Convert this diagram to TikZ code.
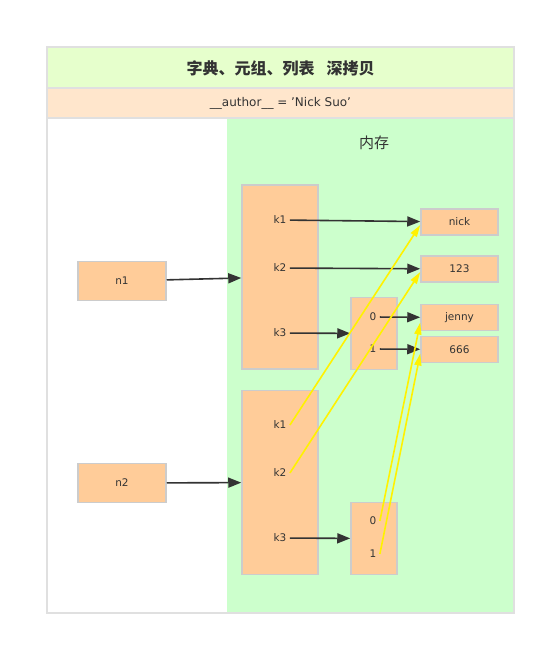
\documentclass[tikz,border=0pt]{standalone}
\usepackage{fontspec}
\setmainfont{DejaVu Sans}
\newfontfamily\cjk{Noto Sans CJK SC}
\usepackage{xcolor}
\usetikzlibrary{arrows.meta, positioning}
\definecolor{peach}{HTML}{FFCC99}
\definecolor{edgegray}{HTML}{CCCCCC}
\definecolor{framegray}{HTML}{E0E0E0}
\definecolor{titlegreen}{HTML}{E6FFCC}
\definecolor{authorpeach}{HTML}{FFE6CC}
\definecolor{memgreen}{HTML}{CCFFCC}
\definecolor{ink}{HTML}{333333}

\begin{document}
\begin{tikzpicture}[x=1pt,y=-1pt,on grid,font=\fontsize{10.5}{12}\selectfont,text=ink]
    \tikzstyle{box}=[shape=rectangle,draw=edgegray,fill=peach,line width=1.5pt,inner sep=0pt]
    \tikzstyle{namebox}=[box,minimum width=88pt,minimum height=39pt]
    \tikzstyle{dictbox}=[box,minimum width=76pt,minimum height=184pt]
    \tikzstyle{tuplebox}=[box,minimum width=46pt,minimum height=72pt]
    \tikzstyle{valbox}=[box,minimum width=77pt,minimum height=26pt]
    \tikzstyle{ref}=[color=ink,line width=1.6pt,-{Triangle[length=13pt,width=10pt]}]
    \tikzstyle{copyref}=[color=yellow,line width=1.6pt,-{Triangle[length=12pt,width=7pt]}]

    \useasboundingbox (0,0) rectangle (546,646);
    % frame and bands
    \fill[titlegreen] (47,47) rectangle (514,88);
    \fill[authorpeach] (47,88) rectangle (514,118);
    \fill[memgreen] (227,118) rectangle (514,613);
    \draw[framegray,line width=1.5pt] (47,88) -- (514,88) (47,118) -- (514,118);
    \draw[framegray,line width=2pt] (47,47) rectangle (514,613);

    \node (title) at (280.5,68) {\cjk\bfseries\fontsize{16}{19}\selectfont 字典、元组、列表\hspace{12pt}深拷贝};
    \node (author) at (280.5,103) {\fontsize{12}{14}\selectfont\_\_author\_\_ = 'Nick Suo'};
    \node (mem) at (374,143) {\cjk\fontsize{15}{17}\selectfont 内存};

    % names
    \node[namebox] (n1) at (122,281) {n1};
    \node[namebox] (n2) at (122,483) {n2};

    % dicts
    \node[dictbox] (D1) at (280,277) {};
    \node (D1k1) at (280,220) {k1};
    \node[below=48pt of D1k1] (D1k2) {k2};
    \node[below=65pt of D1k2] (D1k3) {k3};
    \node[dictbox] (D2) at (280,482.5) {};
    \node (D2k1) at (280,425) {k1};
    \node[below=48pt of D2k1] (D2k2) {k2};
    \node[below=65pt of D2k2] (D2k3) {k3};

    % tuples
    \node[tuplebox] (T1) at (374,333.5) {};
    \node (T1a) at (373,317) {0};
    \node[below=32pt of T1a] (T1b) {1};
    \node[tuplebox] (T2) at (374,538.5) {};
    \node (T2a) at (373,521) {0};
    \node[below=33pt of T2a] (T2b) {1};

    % values
    \node[valbox] (nick) at (459.5,222) {nick};
    \node[valbox] (num) at (459.5,269) {123};
    \node[valbox] (jenny) at (459.5,317.5) {jenny};
    \node[valbox] (six) at (459.5,349.5) {666};

    \path
    (n1) edge[ref] (D1)
    (n2) edge[ref] (D2)
    (D1k1) edge[ref] (nick)
    (D1k2) edge[ref] (num)
    (D1k3) edge[ref] (T1)
    (T1a) edge[ref] (jenny)
    (T1b) edge[ref] (six)
    (D2k3) edge[ref] (T2)
    ;

    \path
    (D2k1.east) edge[copyref] ([yshift=-3pt]nick.west)
    (D2k2.east) edge[copyref] ([yshift=-3pt]num.west)
    (T2a.east) edge[copyref] ([yshift=-5pt]jenny.west)
    (T2b.east) edge[copyref] ([yshift=-4pt]six.west)
    ;
\end{tikzpicture}
\end{document}
